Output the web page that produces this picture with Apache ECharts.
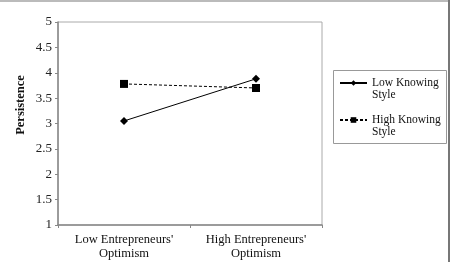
<!DOCTYPE html>
<html><head><meta charset="utf-8">
<script src="https://cdn.jsdelivr.net/npm/echarts@6/dist/echarts.min.js"></script>
<style>html,body{margin:0;padding:0;background:#fff}#c{width:450px;height:262px}</style>
</head><body><div id="c"></div>
<script>
const categories = ["Low Entrepreneurs'\nOptimism", "High Entrepreneurs'\nOptimism"];
const lowKnowing = [3.05, 3.88];
const highKnowing = [3.78, 3.70];
const seriesNames = ["Low Knowing Style", "High Knowing Style"];
const yTicks = [1, 1.5, 2, 2.5, 3, 3.5, 4, 4.5, 5];

const chart = echarts.init(document.getElementById('c'));
const font = 'Liberation Serif';
chart.setOption({
  animation: false,
  backgroundColor: '#fff',
  grid: { left: 58, right: 128, top: 22, bottom: 37, show: true, borderColor: '#aaa', borderWidth: 1 },
  xAxis: {
    type: 'category', data: categories, boundaryGap: true,
    axisLine: { lineStyle: { color: '#888', width: 1.5 } },
    axisTick: { show: true, length: 3, lineStyle: { color: '#888' } },
    axisLabel: { interval: 0, fontFamily: font, fontSize: 12.5, color: '#111', lineHeight: 14, margin: 8 }
  },
  yAxis: {
    type: 'value', min: yTicks[0], max: yTicks[yTicks.length - 1], interval: 0.5,
    name: 'Persistence', nameLocation: 'middle', nameGap: 31, nameRotate: 90, nameMoveOverlap: false,
    nameTextStyle: { fontFamily: font, fontSize: 12.5, fontWeight: 'bold', color: '#111', padding: [0, 0, 0, 37] },
    axisLine: { show: true, lineStyle: { color: '#888', width: 1.5 } },
    axisTick: { show: true, length: 3, inside: false, lineStyle: { color: '#888' } },
    axisLabel: { fontFamily: font, fontSize: 13, color: '#222', margin: 6 },
    splitLine: { show: false }
  },
  legend: {
    orient: 'vertical', left: 339, top: 65,
    padding: 0, itemGap: 1, itemWidth: 27, itemHeight: 7,
    textStyle: { fontFamily: font, fontSize: 11.5, color: '#111', lineHeight: 12 },
    formatter: function (n) { return ' \n' + n.replace(' Style', '\nStyle'); },
    data: seriesNames
  },
  series: [
    { name: seriesNames[0], type: 'line', data: lowKnowing, symbol: 'diamond', symbolSize: 8,
      itemStyle: { color: '#000' }, lineStyle: { color: '#000', width: 1 } },
    { name: seriesNames[1], type: 'line', data: highKnowing, symbol: 'rect', symbolSize: 8,
      itemStyle: { color: '#000' }, lineStyle: { color: '#000', width: 1, type: [3, 2] } }
  ],
  graphic: [
    { type: 'rect', left: 331, top: 68, shape: { width: 113, height: 73 }, style: { fill: 'none', stroke: '#999', lineWidth: 1 } },
    { type: 'rect', left: 0, top: 0, shape: { width: 450, height: 2 }, style: { fill: '#bbb' } },
    { type: 'rect', left: 448, top: 0, shape: { width: 2, height: 262 }, style: { fill: '#777' } }
  ]
});
</script></body></html>
